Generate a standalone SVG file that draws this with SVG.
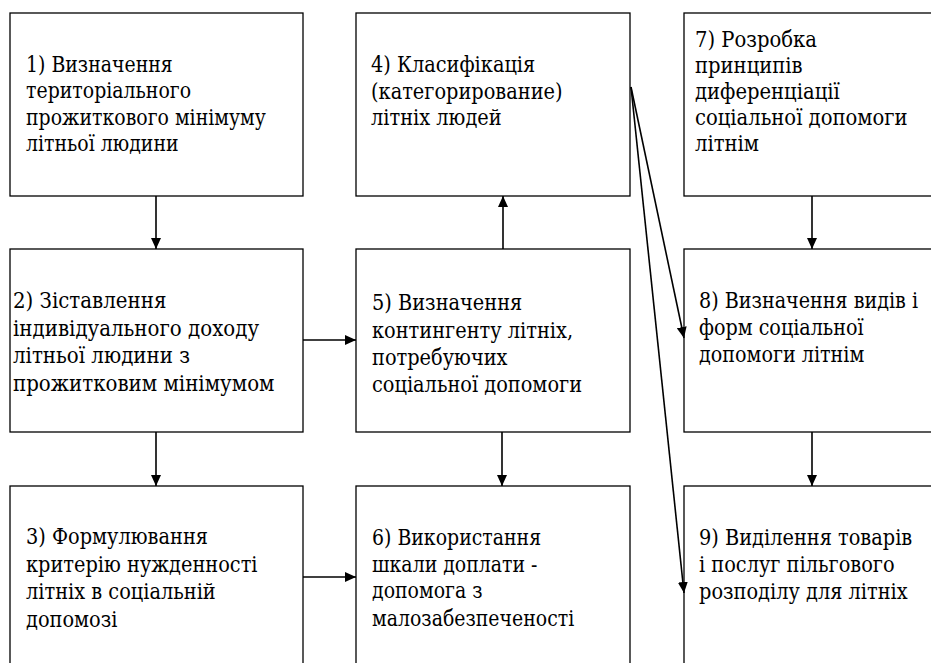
<svg xmlns="http://www.w3.org/2000/svg" width="931" height="663" viewBox="0 0 931 663">
<defs>
<style>
.box{fill:#fff;stroke:#000;stroke-width:1.3}
.t{font-family:'DejaVu Serif','Liberation Serif',serif;font-size:22.5px;fill:#000}
.c{stroke:#000;stroke-width:1.6;fill:none;marker-end:url(#ah)}
</style>
<marker id="ah" markerUnits="userSpaceOnUse" markerWidth="11" markerHeight="10" refX="11" refY="5" orient="auto">
<path d="M0,0 L11,5 L0,10 z" fill="#000"/>
</marker>
</defs>
<rect width="931" height="663" fill="#fff"/>
<g id="n1"><rect class="box" x="10" y="13" width="293" height="183"/>
<text class="t" transform="translate(26,0) scale(0.84,1)"><tspan x="0" y="72">1) Визначення</tspan><tspan x="0" y="98.5">територіального</tspan><tspan x="0" y="125">прожиткового мінімуму</tspan><tspan x="0" y="151.5">літньої людини</tspan></text></g>
<g id="n2"><rect class="box" x="10" y="249" width="293" height="183"/>
<text class="t" transform="translate(13,0) scale(0.88,1)"><tspan x="0" y="308">2) Зіставлення</tspan><tspan x="0" y="336">індивідуального доходу</tspan><tspan x="0" y="363.5">літньої людини з</tspan><tspan x="0" y="391.5">прожитковим мінімумом</tspan></text></g>
<g id="n3"><rect class="box" x="10" y="486" width="293" height="230"/>
<text class="t" transform="translate(26,0) scale(0.86,1)"><tspan x="0" y="544">3) Формулювання</tspan><tspan x="0" y="571.7">критерію нужденності</tspan><tspan x="0" y="599.3">літніх в соціальній</tspan><tspan x="0" y="627.5">допомозі</tspan></text></g>
<g id="n4"><rect class="box" x="356" y="13" width="274" height="183"/>
<text class="t" transform="translate(371,0) scale(0.86,1)"><tspan x="0" y="72.5">4) Класифікація</tspan><tspan x="0" y="99">(категорирование)</tspan><tspan x="0" y="125">літніх людей</tspan></text></g>
<g id="n5"><rect class="box" x="356" y="249" width="274" height="183"/>
<text class="t" transform="translate(372,0) scale(0.86,1)"><tspan x="0" y="310">5) Визначення</tspan><tspan x="0" y="338">контингенту літніх,</tspan><tspan x="0" y="365">потребуючих</tspan><tspan x="0" y="392">соціальної допомоги</tspan></text></g>
<g id="n6"><rect class="box" x="356" y="486" width="274" height="230"/>
<text class="t" transform="translate(372,0) scale(0.84,1)"><tspan x="0" y="545">6) Використання</tspan><tspan x="0" y="572">шкали доплати -</tspan><tspan x="0" y="598.5">допомога з</tspan><tspan x="0" y="626.5">малозабезпеченості</tspan></text></g>
<g id="n7"><rect class="box" x="684" y="13" width="300" height="183"/>
<text class="t" transform="translate(695,0) scale(0.87,1)"><tspan x="0" y="47">7) Розробка</tspan><tspan x="0" y="73">принципів</tspan><tspan x="0" y="99">диференціації</tspan><tspan x="0" y="125">соціальної допомоги</tspan><tspan x="0" y="151">літнім</tspan></text></g>
<g id="n8"><rect class="box" x="684" y="249" width="300" height="183"/>
<text class="t" transform="translate(699,0) scale(0.85,1)"><tspan x="0" y="308">8) Визначення видів і</tspan><tspan x="0" y="335">форм соціальної</tspan><tspan x="0" y="362">допомоги літнім</tspan></text></g>
<g id="n9"><rect class="box" x="684" y="486" width="300" height="230"/>
<text class="t" transform="translate(699,0) scale(0.86,1)"><tspan x="0" y="545">9) Виділення товарів</tspan><tspan x="0" y="572">і послуг пільгового</tspan><tspan x="0" y="599">розподілу для літніх</tspan></text></g>
<g id="connectors">
<line class="c" x1="156" y1="196" x2="156" y2="249"/>
<line class="c" x1="156" y1="432" x2="156" y2="486"/>
<line class="c" x1="503" y1="249" x2="503" y2="196"/>
<line class="c" x1="502" y1="432" x2="502" y2="486"/>
<line class="c" x1="303" y1="340" x2="356" y2="340"/>
<line class="c" x1="303" y1="577" x2="356" y2="577"/>
<line class="c" x1="812" y1="196" x2="812" y2="249"/>
<line class="c" x1="812" y1="432" x2="812" y2="486"/>
<line class="c" x1="631" y1="87" x2="684" y2="338"/>
<line class="c" x1="631" y1="87" x2="684" y2="593"/>
</g>
</svg>
